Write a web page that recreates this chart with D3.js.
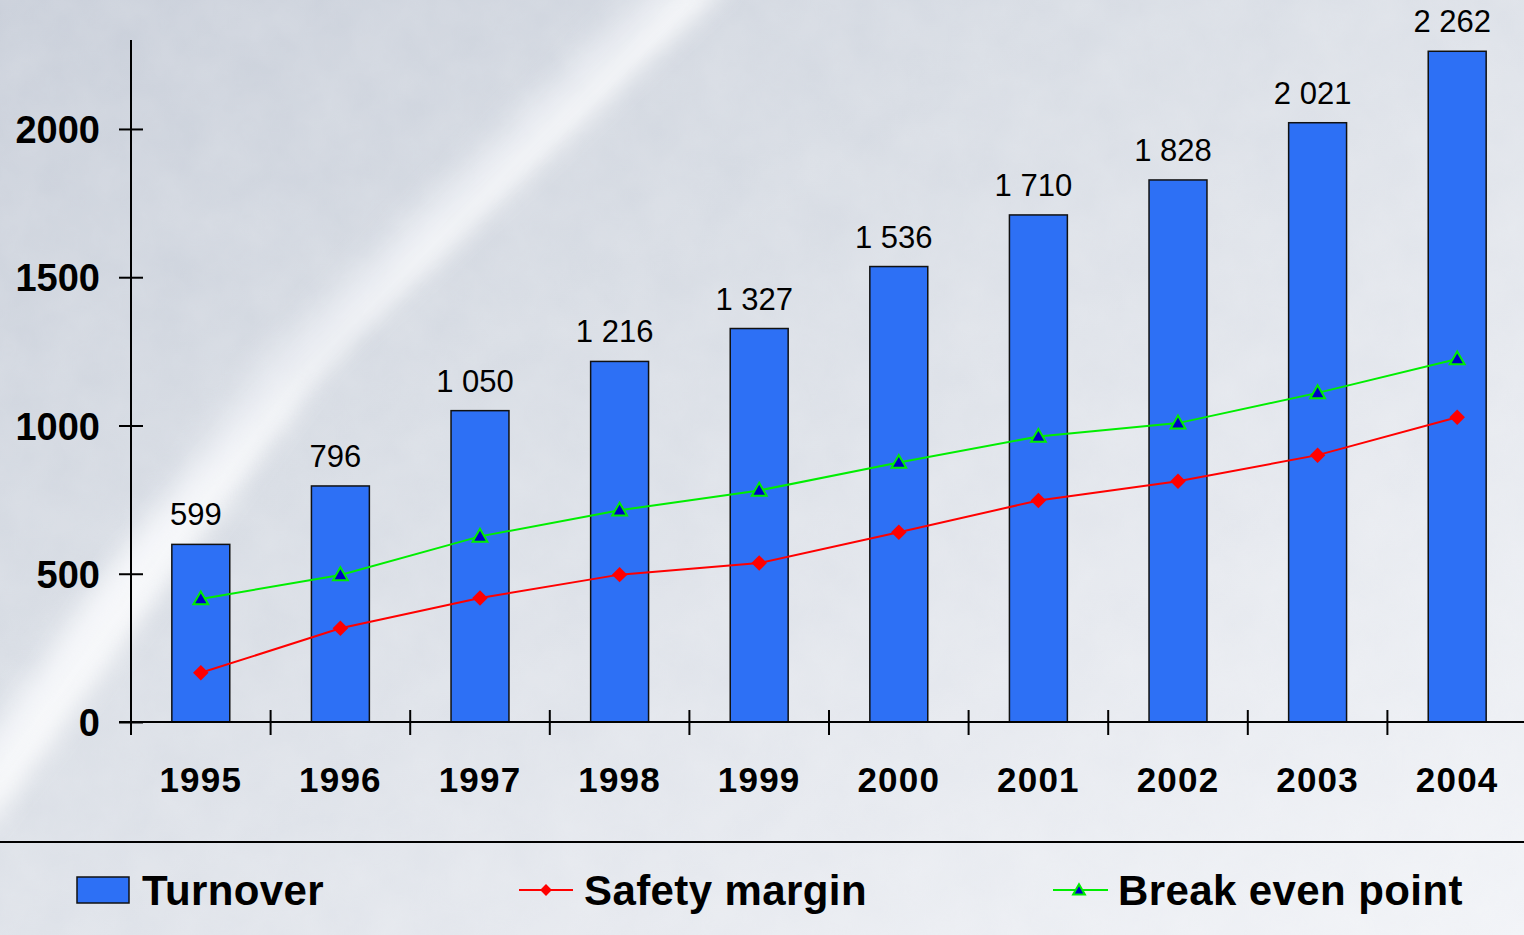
<!DOCTYPE html>
<html lang="en">
<head>
<meta charset="utf-8">
<title>Turnover, safety margin and break even point 1995-2004</title>
<script src="https://cdn.jsdelivr.net/npm/d3@7"></script>
<style>
  body { margin: 0; overflow: hidden; }
  .val_text { font-family: "Liberation Sans", Arial, sans-serif; font-size: 31px; fill: black; }
  .ytick text { font-family: "Liberation Sans", Arial, sans-serif; font-size: 38px; font-weight: bold; }
  .xtick_text { font-family: "Liberation Sans", Arial, sans-serif; font-size: 35px; font-weight: bold; letter-spacing: 1.2px; }
  .legend_text { font-family: "Liberation Sans", Arial, sans-serif; font-size: 42px; font-weight: bold; fill: black; letter-spacing: 0.4px; }
</style>
</head>
<body>
<div id="chart"></div>
<script>
var years = ["1995", "1996", "1997", "1998", "1999", "2000", "2001", "2002", "2003", "2004"];
var turnover = [599, 796, 1050, 1216, 1327, 1536, 1710, 1828, 2021, 2262];
var safetyMargin = [166, 316, 418, 497, 536, 640, 747, 812, 900, 1028];
var breakEven = [415, 496, 626, 714, 781, 875, 963, 1008, 1110, 1224];
var yTicks = [0, 500, 1000, 1500, 2000];
var seriesNames = ["Turnover", "Safety margin", "Break even point"];

var W = 1524, H = 935;

var svg = d3.select("#chart").append("svg")
    .attr("width", W)
    .attr("height", H);

// background
var defs = svg.append("defs");
var bg = defs.append("linearGradient").attr("id", "bg")
    .attr("x1", "0").attr("y1", "0").attr("x2", "1").attr("y2", "1");
bg.append("stop").attr("offset", "0").attr("stop-color", "#c7cdd8");
bg.append("stop").attr("offset", "0.35").attr("stop-color", "#d6dbe3");
bg.append("stop").attr("offset", "0.7").attr("stop-color", "#e5e8ee");
bg.append("stop").attr("offset", "1").attr("stop-color", "#f1f3f7");
var blur = defs.append("filter").attr("id", "blur")
    .attr("x", "-50%").attr("y", "-50%").attr("width", "200%").attr("height", "200%");
blur.append("feGaussianBlur").attr("stdDeviation", 12);
var noise = defs.append("filter").attr("id", "noise");
noise.append("feTurbulence").attr("type", "fractalNoise")
    .attr("baseFrequency", "0.02").attr("numOctaves", 4).attr("seed", 3);
noise.append("feColorMatrix").attr("type", "matrix")
    .attr("values", "0 0 0 0 1  0 0 0 0 1  0 0 0 0 1  0 0 0 0.55 0");

svg.append("rect").attr("width", W).attr("height", H).attr("fill", "url(#bg)");
svg.append("rect").attr("width", W).attr("height", H)
    .attr("filter", "url(#noise)").attr("opacity", 0.35);
// light diagonal streak
svg.append("path")
    .attr("d", "M690,-20 L735,-20 L330,360 L40,760 L-20,840 L-20,770 L120,560 L400,260 Z")
    .attr("fill", "#ffffff").attr("opacity", 0.8).attr("filter", "url(#blur)");
svg.append("path")
    .attr("d", "M650,-20 L700,-20 L300,380 L-20,800 L-20,740 L260,360 Z")
    .attr("fill", "#f4f6fa").attr("opacity", 0.5).attr("filter", "url(#blur)");

var x = d3.scaleBand()
    .domain(years)
    .range([131, 1527])
    .paddingInner(0.585)
    .paddingOuter(0.2925);

var y = d3.scaleLinear()
    .domain([0, 2300])
    .range([722, 40]);

var fmt = d3.formatLocale({ decimal: ",", thousands: " ", grouping: [3], currency: ["", ""] }).format(",d");

// bars
svg.append("g").selectAll("rect")
    .data(turnover)
    .enter().append("rect")
    .attr("x", function(d, i) { return x(years[i]); })
    .attr("y", function(d) { return y(d); })
    .attr("width", x.bandwidth())
    .attr("height", function(d) { return y(0) - y(d); })
    .attr("fill", "#2d70f5")
    .attr("stroke", "#111")
    .attr("stroke-width", 1.5);

// value labels
svg.append("g").selectAll("text")
    .data(turnover)
    .enter().append("text")
    .attr("class", "val_text")
    .attr("x", function(d, i) { return x(years[i]) + x.bandwidth() / 2 - 5; })
    .attr("y", function(d) { return y(d) - 19; })
    .attr("text-anchor", "middle")
    .text(function(d) { return fmt(d); });

// y axis
var yAxis = svg.append("g")
    .attr("class", "ytick")
    .attr("transform", "translate(131,0)")
    .call(d3.axisLeft(y).tickValues(yTicks).tickSize(12).tickPadding(19).tickFormat(d3.format("d")));
yAxis.select(".domain").remove();
yAxis.selectAll(".tick line").attr("x1", 12).attr("x2", -12).attr("stroke", "#000").attr("stroke-width", 2);
yAxis.selectAll(".tick text").attr("fill", "#000").attr("dy", "0.36em");
svg.append("line")
    .attr("x1", 131).attr("x2", 131).attr("y1", 40).attr("y2", 735)
    .attr("stroke", "#000").attr("stroke-width", 2);

// x axis
svg.append("line")
    .attr("x1", 119).attr("x2", W).attr("y1", y(0)).attr("y2", y(0))
    .attr("stroke", "#000").attr("stroke-width", 2);
var bounds = d3.range(years.length + 1).map(function(i) { return x.range()[0] + i * x.step(); });
svg.append("g").selectAll("line")
    .data(bounds.slice(1))
    .enter().append("line")
    .attr("x1", function(d) { return d; }).attr("x2", function(d) { return d; })
    .attr("y1", y(0) - 12).attr("y2", y(0) + 13)
    .attr("stroke", "#000").attr("stroke-width", 2);
svg.append("g").selectAll("text")
    .data(years)
    .enter().append("text")
    .attr("class", "xtick_text")
    .attr("x", function(d) { return x(d) + x.bandwidth() / 2; })
    .attr("y", 792)
    .attr("text-anchor", "middle")
    .text(function(d) { return d; });

// lines
var cx = function(i) { return x(years[i]) + x.bandwidth() / 2; };
var line = d3.line()
    .x(function(d, i) { return cx(i); })
    .y(function(d) { return y(d); });

svg.append("path").datum(breakEven)
    .attr("d", line).attr("fill", "none")
    .attr("stroke", "#00ee00").attr("stroke-width", 2);
svg.append("path").datum(safetyMargin)
    .attr("d", line).attr("fill", "none")
    .attr("stroke", "#ff0000").attr("stroke-width", 2);

var diamond = d3.symbol().type(d3.symbolSquare).size(120);
var triangle = d3.symbol().type(d3.symbolTriangle).size(95);

svg.append("g").selectAll("path")
    .data(safetyMargin)
    .enter().append("path")
    .attr("d", diamond)
    .attr("transform", function(d, i) { return "translate(" + cx(i) + "," + y(d) + ") rotate(45)"; })
    .attr("fill", "#ff0000");
svg.append("g").selectAll("path")
    .data(breakEven)
    .enter().append("path")
    .attr("d", triangle)
    .attr("transform", function(d, i) { return "translate(" + cx(i) + "," + (y(d) + 1) + ")"; })
    .attr("fill", "#0000c8")
    .attr("stroke", "#00ee00")
    .attr("stroke-width", 2);

// separator
svg.append("line")
    .attr("x1", 0).attr("x2", W).attr("y1", 842).attr("y2", 842)
    .attr("stroke", "#000").attr("stroke-width", 2);

// legend
var legend = svg.append("g");
legend.append("rect")
    .attr("x", 77).attr("y", 877).attr("width", 52).attr("height", 26)
    .attr("fill", "#2d70f5").attr("stroke", "#111").attr("stroke-width", 1.5);
legend.append("text").attr("class", "legend_text")
    .attr("x", 142).attr("y", 905).text(seriesNames[0]);

legend.append("line")
    .attr("x1", 519).attr("x2", 573).attr("y1", 890).attr("y2", 890)
    .attr("stroke", "#ff0000").attr("stroke-width", 2);
legend.append("path")
    .attr("d", d3.symbol().type(d3.symbolSquare).size(70))
    .attr("transform", "translate(546,890) rotate(45)")
    .attr("fill", "#ff0000");
legend.append("text").attr("class", "legend_text")
    .attr("x", 584).attr("y", 905).text(seriesNames[1]);

legend.append("line")
    .attr("x1", 1053).attr("x2", 1108).attr("y1", 890).attr("y2", 890)
    .attr("stroke", "#00ee00").attr("stroke-width", 2);
legend.append("path")
    .attr("d", d3.symbol().type(d3.symbolTriangle).size(60))
    .attr("transform", "translate(1079,891)")
    .attr("fill", "#0000c8").attr("stroke", "#00ee00").attr("stroke-width", 2);
legend.append("text").attr("class", "legend_text")
    .attr("x", 1118).attr("y", 905).text(seriesNames[2]);
</script>
</body>
</html>
